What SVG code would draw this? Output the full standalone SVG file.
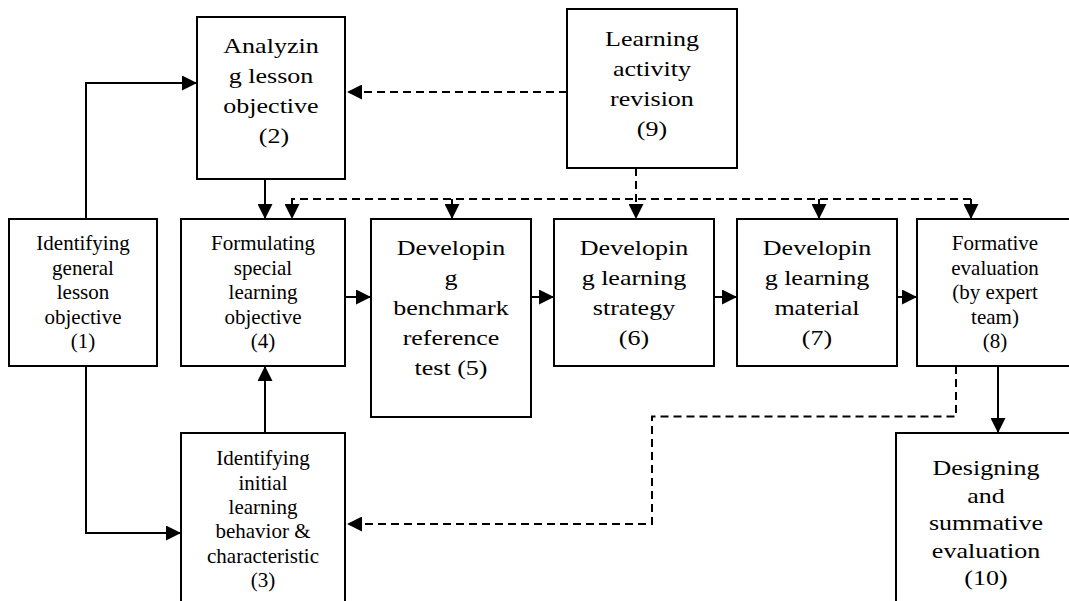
<svg xmlns="http://www.w3.org/2000/svg" width="1069" height="601" viewBox="0 0 1069 601">
<style>
.box{fill:#fff;stroke:#000;stroke-width:2}
.c{fill:none;stroke:#000;stroke-width:2}
.d{stroke-dasharray:8 5}
text{fill:#000;text-anchor:middle;font-family:"Liberation Serif","Times New Roman",serif}
.sm{font-size:21px}
.lg{font-size:21.5px}
</style>
<defs>
<marker id="ah" markerUnits="userSpaceOnUse" markerWidth="15" markerHeight="15" refX="15" refY="7.5" orient="auto" viewBox="0 0 15 15">
<path d="M0,0 L15,7.5 L0,15 Z" fill="#000"/>
</marker>
</defs>
<rect width="1069" height="601" fill="#fff"/>
<g id="connectors">
<path class="c" d="M86,219 V83 H197" marker-end="url(#ah)"/>
<path class="c" d="M86,366 V533 H181" marker-end="url(#ah)"/>
<path class="c" d="M265,179 V219" marker-end="url(#ah)"/>
<path class="c" d="M265,433 V366" marker-end="url(#ah)"/>
<path class="c" d="M345,297 H371" marker-end="url(#ah)"/>
<path class="c" d="M531,297 H554" marker-end="url(#ah)"/>
<path class="c" d="M714,297 H737" marker-end="url(#ah)"/>
<path class="c" d="M897,297 H917" marker-end="url(#ah)"/>
<path class="c" d="M998,366 V433" marker-end="url(#ah)"/>
<path class="c d" d="M567,92 H347" marker-end="url(#ah)"/>
<path class="c d" d="M636,168 V219" marker-end="url(#ah)"/>
<path class="c d" d="M971,199 H292 V219" marker-end="url(#ah)"/>
<path class="c d" d="M452,199 V219" marker-end="url(#ah)"/>
<path class="c d" d="M819,199 V219" marker-end="url(#ah)"/>
<path class="c d" d="M971,199 V219" marker-end="url(#ah)"/>
<path class="c d" d="M956,366 V416.5 H652 V524 H347" marker-end="url(#ah)"/>
</g>
<g id="n1">
<rect class="box" x="9" y="219" width="148" height="147"/>
<text class="sm"><tspan x="83" y="250">Identifying</tspan><tspan x="83" y="274.5">general</tspan><tspan x="83" y="299">lesson</tspan><tspan x="83" y="323.5">objective</tspan><tspan x="83" y="348">(1)</tspan></text>
</g>
<g id="n2" class="lg">
<rect class="box" x="197" y="17" width="148" height="162"/>
<text class="lg" x="271" y="53" textLength="95.3" lengthAdjust="spacingAndGlyphs">Analyzin</text>
<text class="lg" x="271" y="83" textLength="84.5" lengthAdjust="spacingAndGlyphs">g lesson</text>
<text class="lg" x="271" y="113" textLength="95.3" lengthAdjust="spacingAndGlyphs">objective</text>
<text class="lg" x="274" y="143" textLength="30.3" lengthAdjust="spacingAndGlyphs">(2)</text>
</g>
<g id="n3">
<rect class="box" x="181" y="433" width="164" height="180"/>
<text class="sm"><tspan x="263" y="465">Identifying</tspan><tspan x="263" y="489.5">initial</tspan><tspan x="263" y="514">learning</tspan><tspan x="263" y="538">behavior &amp;</tspan><tspan x="263" y="562.5">characteristic</tspan><tspan x="263" y="587">(3)</tspan></text>
</g>
<g id="n4">
<rect class="box" x="181" y="219" width="164" height="147"/>
<text class="sm"><tspan x="263" y="250">Formulating</tspan><tspan x="263" y="274.5">special</tspan><tspan x="263" y="299">learning</tspan><tspan x="263" y="323.5">objective</tspan><tspan x="263" y="348">(4)</tspan></text>
</g>
<g id="n5">
<rect class="box" x="371" y="219" width="160" height="198"/>
<text class="lg" x="451" y="255" textLength="108.3" lengthAdjust="spacingAndGlyphs">Developin</text>
<text class="lg" x="451" y="285" textLength="13" lengthAdjust="spacingAndGlyphs">g</text>
<text class="lg" x="451" y="315" textLength="115.5" lengthAdjust="spacingAndGlyphs">benchmark</text>
<text class="lg" x="451" y="345" textLength="96.7" lengthAdjust="spacingAndGlyphs">reference</text>
<text class="lg" x="451" y="375" textLength="72.9" lengthAdjust="spacingAndGlyphs">test (5)</text>
</g>
<g id="n6">
<rect class="box" x="554" y="219" width="160" height="147"/>
<text class="lg" x="634" y="255" textLength="108.3" lengthAdjust="spacingAndGlyphs">Developin</text>
<text class="lg" x="634" y="285" textLength="104.7" lengthAdjust="spacingAndGlyphs">g learning</text>
<text class="lg" x="634" y="315" textLength="82.3" lengthAdjust="spacingAndGlyphs">strategy</text>
<text class="lg" x="634" y="345" textLength="30.3" lengthAdjust="spacingAndGlyphs">(6)</text>
</g>
<g id="n7">
<rect class="box" x="737" y="219" width="160" height="147"/>
<text class="lg" x="817" y="255" textLength="108.3" lengthAdjust="spacingAndGlyphs">Developin</text>
<text class="lg" x="817" y="285" textLength="104.7" lengthAdjust="spacingAndGlyphs">g learning</text>
<text class="lg" x="817" y="315" textLength="85.2" lengthAdjust="spacingAndGlyphs">material</text>
<text class="lg" x="817" y="345" textLength="30.3" lengthAdjust="spacingAndGlyphs">(7)</text>
</g>
<g id="n8">
<rect class="box" x="917" y="219" width="160" height="147"/>
<text class="sm"><tspan x="995" y="250">Formative</tspan><tspan x="995" y="274.5">evaluation</tspan><tspan x="995" y="299">(by expert</tspan><tspan x="995" y="323.5">team)</tspan><tspan x="995" y="348">(8)</tspan></text>
</g>
<g id="n9">
<rect class="box" x="567" y="9" width="170" height="159"/>
<text class="lg" x="652" y="45.5" textLength="93.9" lengthAdjust="spacingAndGlyphs">Learning</text>
<text class="lg" x="652" y="75.5" textLength="78" lengthAdjust="spacingAndGlyphs">activity</text>
<text class="lg" x="652" y="105.5" textLength="83.8" lengthAdjust="spacingAndGlyphs">revision</text>
<text class="lg" x="652" y="136" textLength="30.3" lengthAdjust="spacingAndGlyphs">(9)</text>
</g>
<g id="n10">
<rect class="box" x="896" y="433" width="185" height="180"/>
<text class="lg" x="986" y="475" textLength="106.9" lengthAdjust="spacingAndGlyphs">Designing</text>
<text class="lg" x="986" y="502.5" textLength="37.5" lengthAdjust="spacingAndGlyphs">and</text>
<text class="lg" x="986" y="530" textLength="114.1" lengthAdjust="spacingAndGlyphs">summative</text>
<text class="lg" x="986" y="557.5" textLength="108.3" lengthAdjust="spacingAndGlyphs">evaluation</text>
<text class="lg" x="986" y="585" textLength="43.3" lengthAdjust="spacingAndGlyphs">(10)</text>
</g>
</svg>
